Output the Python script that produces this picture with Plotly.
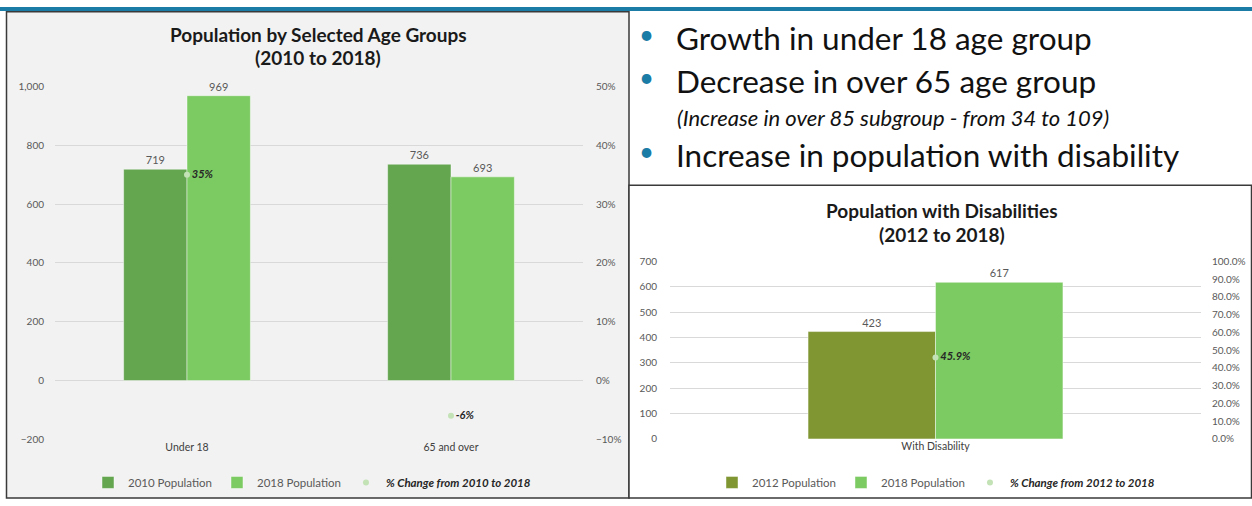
import plotly.graph_objects as go

# ---- data ----
age_groups = ["Under 18", "65 and over"]
pop_2010 = [719, 736]
pop_2018 = [969, 693]
age_pct_change = [35, -6]          # percent

dis_groups = ["With Disability"]
pop_2012_dis = [423]
pop_2018_dis = [617]
dis_pct_change = [45.9]            # percent

bullets = [
    "Growth in under 18 age group",
    "Decrease in over 65 age group",
    "Increase in population with disability",
]
bullet_note = "(Increase in over 85 subgroup - from 34 to 109)"

# ---- styling ----
W, H = 1252, 506
FONT = "Lato"
DARK_GREEN = "#64a550"
LIGHT_GREEN = "#7cca62"
OLIVE = "#7f9632"
DOT = "#c3e2b5"
TICK = "#595959"
GRID = "#d9d9d9"
BLUE = "#1b7ca6"
BAR_EDGE = dict(color="rgba(255,255,255,0.45)", width=1)


def px(x):
    return x / W


def py(y):
    return 1 - y / H


fig = go.Figure()

# left chart: age groups
fig.add_trace(go.Bar(
    x=age_groups, y=pop_2010, name="2010 Population",
    marker=dict(color=DARK_GREEN, line=BAR_EDGE),
    textposition="outside", texttemplate="%{y}",
    textfont=dict(size=11, color=TICK), cliponaxis=False,
    xaxis="x", yaxis="y", legend="legend",
))
fig.add_trace(go.Bar(
    x=age_groups, y=pop_2018, name="2018 Population",
    marker=dict(color=LIGHT_GREEN, line=BAR_EDGE),
    textposition="outside", texttemplate="%{y}",
    textfont=dict(size=11, color=TICK), cliponaxis=False,
    xaxis="x", yaxis="y", legend="legend",
))
fig.add_trace(go.Scatter(
    x=age_groups, y=[v / 100 for v in age_pct_change],
    name="<b><i><span style='color:#262626'>% Change from 2010 to 2018</span></i></b>",
    mode="markers+text",
    marker=dict(color=DOT, size=6),
    text=[f"<b><i>{v:.0f}%</i></b>" for v in age_pct_change],
    textposition="middle right",
    textfont=dict(size=11, color="#262626"),
    xaxis="x", yaxis="y2", legend="legend",
))

# right chart: disability
fig.add_trace(go.Bar(
    x=dis_groups, y=pop_2012_dis, name="2012 Population",
    marker=dict(color=OLIVE, line=BAR_EDGE),
    textposition="outside", texttemplate="%{y}",
    textfont=dict(size=11, color=TICK), cliponaxis=False,
    xaxis="x3", yaxis="y3", legend="legend2",
))
fig.add_trace(go.Bar(
    x=dis_groups, y=pop_2018_dis, name="2018 Population",
    marker=dict(color=LIGHT_GREEN, line=BAR_EDGE),
    textposition="outside", texttemplate="%{y}",
    textfont=dict(size=11, color=TICK), cliponaxis=False,
    xaxis="x3", yaxis="y3", legend="legend2",
))
fig.add_trace(go.Scatter(
    x=dis_groups, y=[v / 100 for v in dis_pct_change],
    name="<b><i><span style='color:#262626'>% Change from 2012 to 2018</span></i></b>",
    mode="markers+text",
    marker=dict(color=DOT, size=6),
    text=[f"<b><i>{v:.1f}%</i></b>" for v in dis_pct_change],
    textposition="middle right",
    textfont=dict(size=11, color="#262626"),
    xaxis="x3", yaxis="y4", legend="legend2",
))

tick_font = dict(size=10, color=TICK, family=FONT)
cat_font = dict(size=10.5, color="#404040", family=FONT)

left_dom_x = [px(55), px(583)]
left_dom_y = [py(443.7), py(81.7)]
right_dom_x = [px(670), px(1201)]
right_dom_y = [py(443.3), py(261)]

shapes = [
    # page band
    dict(type="rect", xref="paper", yref="paper", x0=0, x1=1, y0=py(4), y1=1,
         fillcolor=BLUE, line=dict(width=0), layer="below"),
    # left chart panel
    dict(type="rect", xref="paper", yref="paper", x0=px(6.5), x1=px(629), y0=py(504), y1=py(5),
         fillcolor="#f2f2f2", line=dict(color="#3a3a3a", width=1.5), layer="below"),
    # lower right chart panel
    dict(type="rect", xref="paper", yref="paper", x0=px(629), x1=px(1251.5), y0=py(504), y1=py(183),
         fillcolor="#ffffff", line=dict(color="#3a3a3a", width=1.5), layer="below"),
]

title_font = dict(size=19, color="#1a1a1a", family=FONT)
annotations = [
    dict(text="<b>Population by Selected Age Groups</b>", x=px(318), y=py(28),
         xref="paper", yref="paper", showarrow=False, xanchor="center", yanchor="middle",
         font=title_font),
    dict(text="<b>(2010 to 2018)</b>", x=px(318), y=py(52),
         xref="paper", yref="paper", showarrow=False, xanchor="center", yanchor="middle",
         font=title_font),
    dict(text="<b>Population with Disabilities</b>", x=px(942), y=py(209),
         xref="paper", yref="paper", showarrow=False, xanchor="center", yanchor="middle",
         font=title_font),
    dict(text="<b>(2012 to 2018)</b>", x=px(942), y=py(233),
         xref="paper", yref="paper", showarrow=False, xanchor="center", yanchor="middle",
         font=title_font),
]

bullet_rows = [32, 76, 152]
for text, yc in zip(bullets, bullet_rows):
    annotations.append(dict(text="\u2022", x=px(646), y=py(yc - 4), xref="paper", yref="paper",
                            showarrow=False, xanchor="center", yanchor="middle",
                            font=dict(size=26, color=BLUE, family=FONT)))
    annotations.append(dict(text=text, x=px(674), y=py(yc), xref="paper", yref="paper",
                            showarrow=False, xanchor="left", yanchor="middle",
                            font=dict(size=31.5, color="#111111", family=FONT)))
annotations.append(dict(text=f"<i>{bullet_note}</i>", x=px(675), y=py(113),
                        xref="paper", yref="paper", showarrow=False, xanchor="left", yanchor="middle",
                        font=dict(size=22, color="#111111", family=FONT)))

legend_style = dict(orientation="h", xanchor="left", yanchor="middle",
                    bgcolor="rgba(0,0,0,0)", font=dict(size=11.5, color=TICK, family=FONT),
                    itemwidth=30, traceorder="normal")

fig.update_layout(
    width=W, height=H,
    margin=dict(l=0, r=0, t=0, b=0),
    paper_bgcolor="#ffffff", plot_bgcolor="rgba(0,0,0,0)",
    font=dict(family=FONT),
    barmode="group", bargap=0.52, bargroupgap=0,
    shapes=shapes, annotations=annotations,
    xaxis=dict(domain=left_dom_x, anchor="y", showgrid=False, showline=False, ticks="",
               tickfont=cat_font, fixedrange=True),
    yaxis=dict(domain=left_dom_y, anchor="x", range=[-200, 1000], dtick=200, tickformat=",",
               showgrid=True, gridcolor=GRID, gridwidth=1, zeroline=False,
               tickfont=tick_font, ticklabelstandoff=10),
    yaxis2=dict(overlaying="y", side="right", anchor="x", range=[-0.1, 0.5], dtick=0.1,
                tickformat=".0%", showgrid=False, zeroline=False, tickfont=tick_font,
                ticklabelstandoff=12),
    xaxis3=dict(domain=right_dom_x, anchor="y3", showgrid=False, showline=False, ticks="",
                tickfont=cat_font),
    yaxis3=dict(domain=right_dom_y, anchor="x3", range=[0, 700], dtick=100,
                showgrid=True, gridcolor=GRID, gridwidth=1, zeroline=False,
                tickfont=tick_font, ticklabelstandoff=12),
    yaxis4=dict(overlaying="y3", side="right", anchor="x3", range=[0, 1], dtick=0.1,
                tickformat=".1%", showgrid=False, zeroline=False, tickfont=tick_font,
                ticklabelstandoff=10),
    legend=dict(x=px(88), y=py(488), **legend_style),
    legend2=dict(x=px(712), y=py(488), **legend_style),
)

fig.write_html("out.html")
